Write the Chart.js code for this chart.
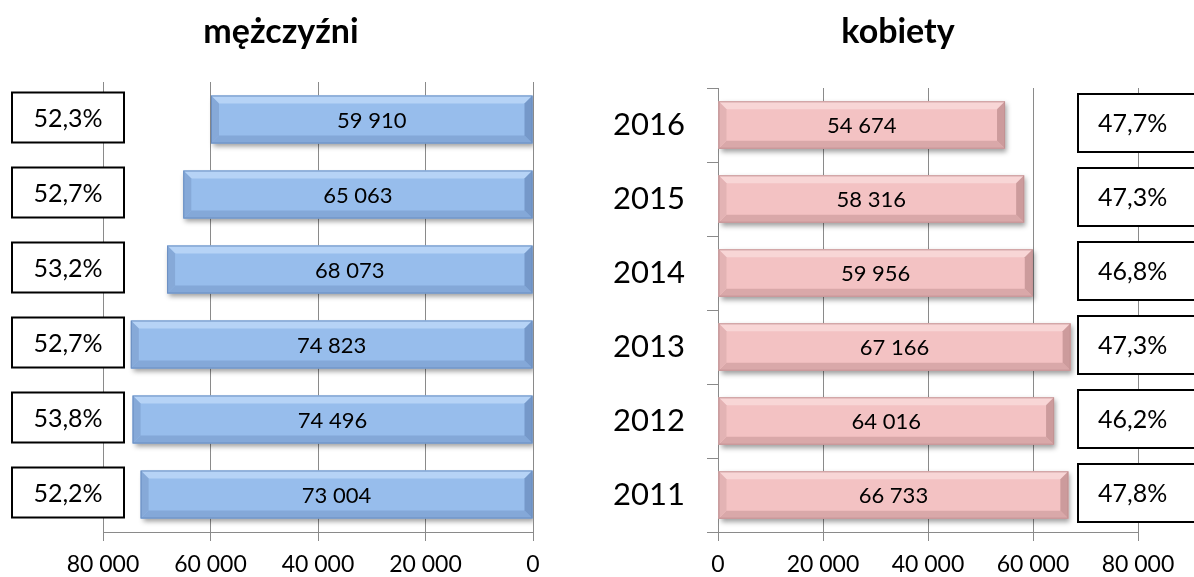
<!DOCTYPE html>
<html>
<head>
<meta charset="utf-8">
<script src="https://cdn.jsdelivr.net/npm/chart.js@4/dist/chart.umd.min.js"></script>
<style>
  html, body { margin: 0; padding: 0; background: #fff; }
  #wrap { position: relative; width: 1194px; height: 577px; overflow: hidden; }
  canvas { position: absolute; top: 0; }
</style>
</head>
<body>
<div id="wrap">
  <canvas id="men" width="597" height="577" style="left:0"></canvas>
  <canvas id="women" width="597" height="577" style="left:597px"></canvas>
</div>
<script>
const years = ["2016", "2015", "2014", "2013", "2012", "2011"];
const men = [59910, 65063, 68073, 74823, 74496, 73004];
const women = [54674, 58316, 59956, 67166, 64016, 66733];
const menShare = ["52,3%", "52,7%", "53,2%", "52,7%", "53,8%", "52,2%"];
const womenShare = ["47,7%", "47,3%", "46,8%", "47,3%", "46,2%", "47,8%"];
const axisMax = 80000;
const axisStep = 20000;

const gridGray = "#8a8a8a";
const fontName = "Lato, 'Open Sans', sans-serif";

function fmtThousands(v) {
  return String(v).replace(/\B(?=(\d{3})+(?!\d))/g, " ");
}

function poly(ctx, pts, color) {
  ctx.beginPath();
  ctx.moveTo(pts[0][0], pts[0][1]);
  for (let i = 1; i < pts.length; i++) ctx.lineTo(pts[i][0], pts[i][1]);
  ctx.closePath();
  ctx.fillStyle = color;
  ctx.fill();
}

// chart heading drawn as text above the plot
const heading = {
  id: "heading",
  afterDraw(chart, args, opts) {
    const ctx = chart.ctx;
    ctx.save();
    ctx.font = "bold 34px " + fontName;
    ctx.fillStyle = "#000";
    ctx.textAlign = "center";
    ctx.textBaseline = "alphabetic";
    ctx.fillText(opts.text, opts.x, opts.y);
    ctx.restore();
  }
};

// bevelled bars, value labels and the framed percentage boxes
const barLook = {
  id: "barLook",
  beforeDatasetsDraw(chart) {
    const ctx = chart.ctx;
    ctx.save();
    ctx.shadowColor = "rgba(0,0,0,0.38)";
    ctx.shadowBlur = 5;
    ctx.shadowOffsetX = 2;
    ctx.shadowOffsetY = 3;
  },
  afterDatasetsDraw(chart, args, opts) {
    const ctx = chart.ctx;
    ctx.restore();
    const bars = chart.getDatasetMeta(0).data;
    const values = chart.data.datasets[0].data;
    const b = 8;

    ctx.save();
    bars.forEach((bar, i) => {
      const l = Math.min(bar.x, bar.base), r = Math.max(bar.x, bar.base);
      const t = bar.y - bar.height / 2, bt = bar.y + bar.height / 2;
      poly(ctx, [[l, t], [r, t], [r - b, t + b], [l + b, t + b]], opts.top);
      poly(ctx, [[l, bt], [r, bt], [r - b, bt - b], [l + b, bt - b]], opts.bottom);
      poly(ctx, [[l, t], [l + b, t + b], [l + b, bt - b], [l, bt]], opts.left);
      poly(ctx, [[r, t], [r - b, t + b], [r - b, bt - b], [r, bt]], opts.right);
      ctx.strokeStyle = opts.edge;
      ctx.lineWidth = 1;
      ctx.strokeRect(l + 0.5, t + 0.5, r - l - 1, bt - t - 1);

      ctx.fillStyle = "#000";
      ctx.font = "22px " + fontName;
      ctx.textAlign = "center";
      ctx.textBaseline = "middle";
      ctx.fillText(fmtThousands(values[i]), (l + r) / 2, bar.y + 1);
    });

    const area = chart.chartArea;
    const yScale = chart.scales.y;
    opts.share.forEach((txt, i) => {
      const cy = yScale.getPixelForValue(i) + opts.boxShift;
      const bx = (opts.side === "left" ? area.left : area.right) + opts.boxOffset;
      const by = cy - opts.boxHeight / 2;
      ctx.fillStyle = "#fff";
      ctx.fillRect(bx, by, opts.boxWidth, opts.boxHeight);
      ctx.strokeStyle = "#000";
      ctx.lineWidth = 2;
      ctx.strokeRect(bx, by, opts.boxWidth, opts.boxHeight);
      ctx.fillStyle = "#000";
      ctx.font = "25px " + fontName;
      ctx.textBaseline = "middle";
      if (opts.side === "left") {
        ctx.textAlign = "center";
        ctx.fillText(txt, bx + opts.boxWidth / 2, cy + 1);
      } else {
        ctx.textAlign = "left";
        ctx.fillText(txt, bx + 20, cy + 1);
      }
    });
    ctx.restore();
  }
};

function xAxis(reverse) {
  return {
    reverse: reverse,
    min: 0,
    max: axisMax,
    ticks: {
      stepSize: axisStep,
      callback: v => fmtThousands(v),
      color: "#000",
      font: { family: fontName, size: 23 },
      padding: 10,
      maxRotation: 0
    },
    grid: { color: gridGray, tickLength: 9, tickColor: gridGray },
    border: { color: gridGray },
    afterFit: s => { s.height = 45; }
  };
}

new Chart(document.getElementById("men"), {
  type: "bar",
  data: {
    labels: years,
    datasets: [{
      data: men,
      backgroundColor: "#97bdec",
      barPercentage: 0.64,
      categoryPercentage: 1
    }]
  },
  options: {
    indexAxis: "y",
    responsive: false,
    animation: false,
    layout: { padding: { left: 103, right: 64, top: 82, bottom: 0 } },
    plugins: {
      legend: { display: false },
      tooltip: { enabled: false },
      heading: { text: "mężczyźni", x: 281, y: 43 },
      barLook: {
        top: "#b6d3f6", bottom: "#84a8d8", left: "#86a9d8", right: "#7598c9", edge: "#6b8fc2",
        share: menShare, side: "left", boxOffset: -91, boxWidth: 112, boxHeight: 50, boxShift: -2
      }
    },
    scales: {
      x: xAxis(true),
      y: { display: false }
    }
  },
  plugins: [heading, barLook]
});

new Chart(document.getElementById("women"), {
  type: "bar",
  data: {
    labels: years,
    datasets: [{
      data: women,
      backgroundColor: "#f3c2c3",
      barPercentage: 0.64,
      categoryPercentage: 1
    }]
  },
  options: {
    indexAxis: "y",
    responsive: false,
    animation: false,
    layout: { padding: { left: 0, right: 56, top: 88, bottom: 0 } },
    plugins: {
      legend: { display: false },
      tooltip: { enabled: false },
      heading: { text: "kobiety", x: 301, y: 43 },
      barLook: {
        top: "#f8d6d6", bottom: "#d9a8a9", left: "#e3b3b4", right: "#cc9b9c", edge: "#c29293",
        share: womenShare, side: "right", boxOffset: -60, boxWidth: 140, boxHeight: 58, boxShift: -2
      }
    },
    scales: {
      x: xAxis(false),
      y: {
        ticks: { color: "#000", font: { family: fontName, size: 31 }, padding: 22 },
        grid: { drawOnChartArea: false, color: gridGray, tickLength: 11, tickColor: gridGray },
        border: { color: gridGray },
        afterFit: s => { s.width = 121; }
      }
    }
  },
  plugins: [heading, barLook]
});
</script>
</body>
</html>
